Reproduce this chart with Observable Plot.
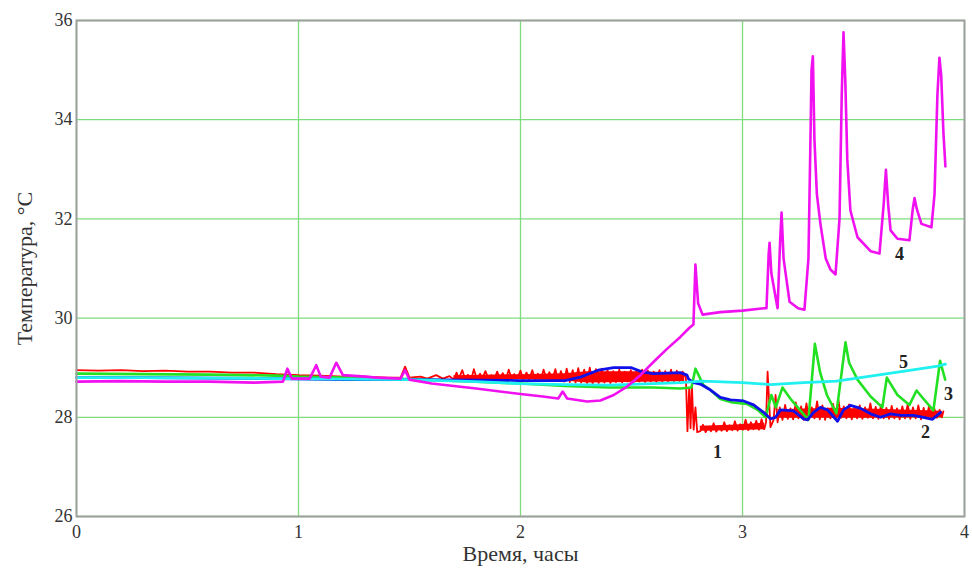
<!DOCTYPE html>
<html>
<head>
<meta charset="utf-8">
<script src="https://cdn.jsdelivr.net/npm/d3@7"></script>
<script src="https://cdn.jsdelivr.net/npm/@observablehq/plot@0.6"></script>
<style>
  html, body { margin: 0; padding: 0; background: #fff; }
  #chart svg { display: block; }
</style>
</head>
<body>
<div id="chart"></div>
<script>
// Axis ticks
const xTicks = [0, 1, 2, 3, 4];
const yTicks = [26, 28, 30, 32, 34, 36];

// Curve 1 (red): [time h, temperature °C]
const curve1 = [
  [0,28.95],[0.1,28.94],[0.2,28.95],[0.3,28.93],[0.4,28.94],[0.5,28.92],[0.6,28.92],[0.7,28.9],[0.8,28.9],[0.9,28.87],
  [1.0,28.85],[1.1,28.84],[1.2,28.82],[1.3,28.82],[1.4,28.8],[1.46,28.8],[1.48,29.02],[1.5,28.8],[1.55,28.82],[1.58,28.78],
  [1.62,28.85],[1.65,28.78],[1.68,28.83],
  [1.700,28.76],[1.712,28.90],[1.722,28.78],[1.738,28.95],[1.750,28.77],[1.763,28.86],[1.778,28.76],[1.790,28.97],
  [1.803,28.77],[1.818,28.88],[1.828,28.78],[1.842,28.93],[1.857,28.76],[1.868,28.85],[1.882,28.77],[1.895,28.92],
  [1.907,28.78],[1.920,28.89],[1.934,28.76],[1.947,28.96],[1.960,28.77],[1.972,28.87],[1.986,28.78],[2.000,28.94],
  [2.012,28.76],[2.027,28.90],[2.039,28.77],[2.053,28.95],[2.066,28.76],[2.078,28.88],[2.092,28.77],[2.104,28.96],
  [2.118,28.76],[2.130,28.91],[2.143,28.75],[2.157,28.97],[2.170,28.74],[2.182,28.93],[2.196,28.72],[2.208,28.98],
  [2.222,28.71],[2.235,28.95],[2.248,28.70],[2.260,28.99],[2.273,28.70],[2.287,28.96],[2.300,28.69],[2.312,29.0],
  [2.325,28.68],[2.340,28.97],[2.352,28.69],[2.366,28.98],[2.378,28.70],[2.392,28.95],[2.405,28.69],[2.418,28.93],
  [2.430,28.71],[2.445,28.96],[2.458,28.70],[2.470,28.92],[2.483,28.72],[2.497,28.95],[2.510,28.70],[2.522,28.93],
  [2.535,28.72],[2.548,28.96],[2.561,28.71],[2.574,28.94],[2.587,28.72],[2.600,28.92],[2.612,28.71],[2.626,28.95],
  [2.639,28.72],[2.652,28.93],[2.665,28.71],[2.678,28.96],[2.691,28.72],[2.704,28.94],[2.716,28.73],[2.730,28.92],
  [2.745,28.80],
  [2.752,27.72],[2.760,28.60],[2.766,27.78],[2.772,28.65],[2.780,27.75],[2.788,28.20],[2.796,27.70],
  [2.810,27.72],[2.822,27.85],[2.834,27.70],[2.846,27.80],[2.858,27.72],[2.870,27.88],[2.882,27.71],[2.894,27.82],
  [2.906,27.73],[2.918,27.90],[2.930,27.72],[2.942,27.84],[2.954,27.74],[2.966,27.92],[2.978,27.73],[2.990,27.86],
  [3.002,27.75],[3.014,27.95],[3.026,27.74],[3.038,27.90],[3.050,27.76],[3.062,27.93],[3.074,27.75],[3.086,27.96],
  [3.098,27.76],[3.106,27.90],
  [3.113,28.92],[3.126,27.80],[3.140,27.95],[3.149,28.45],[3.158,27.90],
  [3.168,28.20],[3.180,27.95],[3.192,28.25],[3.204,27.97],[3.216,28.18],[3.228,27.96],[3.240,28.30],[3.252,27.98],
  [3.264,28.22],[3.276,27.95],[3.288,28.28],[3.300,27.97],[3.312,28.20],[3.324,27.98],[3.336,28.32],[3.348,27.96],
  [3.360,28.24],[3.372,27.95],[3.384,28.18],[3.396,27.98],[3.408,28.27],[3.420,27.97],[3.432,28.35],[3.444,27.99],
  [3.456,28.22],[3.468,27.98],[3.480,28.26],[3.492,27.96],[3.504,28.19],[3.516,27.98],[3.528,28.24],[3.540,27.97],
  [3.552,28.20],[3.564,27.99],[3.576,28.28],[3.588,27.98],[3.600,28.21],[3.612,27.97],[3.624,28.25],[3.636,27.98],
  [3.648,28.19],[3.660,27.97],[3.672,28.23],[3.684,27.98],[3.696,28.18],[3.708,27.96],[3.720,28.22],[3.732,27.98],
  [3.744,28.26],[3.756,27.97],[3.768,28.20],[3.780,27.98],[3.792,28.24],[3.804,27.96],[3.816,28.19],[3.828,27.98],
  [3.840,28.22],[3.852,27.97],[3.864,28.18],[3.876,27.99],[3.888,28.15],[3.898,28.0],[3.905,28.12]
];

// Curve 1 (red) dense noise envelope: [time h, low °C, high °C]
const curve1Band = [
  [1.70,28.76,28.84],[2.00,28.76,28.86],[2.20,28.73,28.88],[2.30,28.69,28.92],[2.50,28.70,28.92],[2.74,28.72,28.90],
  [2.81,27.72,27.82],[2.95,27.73,27.84],[3.10,27.75,27.88],
  [3.16,27.98,28.15],[3.40,27.98,28.18],[3.60,27.98,28.16],[3.90,27.99,28.12]
];

// Curve 2 (blue)
const curve2 = [
  [0,28.8],[0.3,28.8],[0.6,28.79],[0.9,28.78],[1.2,28.76],[1.5,28.76],[1.8,28.75],[2.0,28.74],[2.2,28.74],
  [2.27,28.81],[2.35,28.95],[2.42,29.0],[2.5,29.0],[2.55,28.91],[2.6,28.88],[2.72,28.9],[2.75,28.85],
  [2.757,28.77],[2.78,28.7],[2.81,28.67],[2.856,28.55],[2.9,28.4],[2.946,28.35],[3.005,28.33],[3.05,28.25],
  [3.095,28.1],[3.126,27.97],[3.149,28.0],[3.171,28.15],[3.23,28.13],[3.275,27.97],[3.293,27.95],[3.32,28.1],
  [3.351,28.2],[3.383,28.15],[3.428,27.92],[3.455,28.15],[3.486,28.24],[3.532,28.18],[3.577,28.07],[3.622,28.0],
  [3.667,28.07],[3.712,28.04],[3.77,28.04],[3.815,28.0],[3.856,27.96],[3.892,28.1]
];

// Curve 3 (green)
const curve3 = [
  [0,28.88],[0.3,28.87],[0.6,28.86],[0.9,28.84],[1.0,28.82],[1.2,28.8],[1.5,28.77],[1.8,28.72],[2.0,28.68],
  [2.2,28.63],[2.4,28.6],[2.6,28.6],[2.72,28.58],[2.77,28.6],[2.788,28.98],[2.824,28.65],[2.856,28.55],
  [2.9,28.37],[2.955,28.3],[3.02,28.27],[3.068,28.15],[3.104,28.0],[3.13,28.45],[3.15,28.2],[3.18,28.6],
  [3.22,28.35],[3.297,27.95],[3.326,29.48],[3.35,28.9],[3.38,28.45],[3.423,28.08],[3.464,29.51],[3.48,29.1],
  [3.518,28.76],[3.577,28.42],[3.63,28.2],[3.65,28.8],[3.698,28.45],[3.752,28.25],[3.784,28.54],[3.81,28.4],
  [3.86,28.14],[3.89,29.14],[3.913,28.76]
];

// Curve 4 (magenta)
const curve4 = [
  [0,28.72],[0.2,28.73],[0.4,28.72],[0.6,28.72],[0.8,28.7],[0.93,28.72],[0.95,28.98],[0.97,28.78],[1.05,28.78],
  [1.08,29.05],[1.1,28.82],[1.14,28.8],[1.17,29.1],[1.2,28.85],[1.3,28.82],[1.35,28.8],[1.46,28.78],[1.48,28.95],
  [1.5,28.76],[1.6,28.68],[1.8,28.58],[2.0,28.47],[2.1,28.42],[2.17,28.38],[2.19,28.52],[2.21,28.38],[2.3,28.32],
  [2.36,28.34],[2.42,28.45],[2.48,28.62],[2.54,28.85],[2.6,29.12],[2.66,29.38],[2.72,29.62],[2.76,29.8],
  [2.779,29.87],[2.788,31.08],[2.8,30.3],[2.82,30.07],[2.9,30.12],[3.0,30.15],[3.1,30.2],[3.108,30.2],
  [3.118,31.3],[3.122,31.52],[3.13,30.9],[3.158,30.2],[3.17,31.6],[3.176,32.13],[3.185,31.2],[3.212,30.33],
  [3.25,30.2],[3.279,30.17],[3.297,31.2],[3.305,33.3],[3.311,35.0],[3.317,35.28],[3.324,33.6],[3.335,32.5],
  [3.351,31.9],[3.375,31.2],[3.396,30.98],[3.419,30.88],[3.437,32.0],[3.447,34.5],[3.455,35.76],[3.463,34.8],
  [3.472,33.2],[3.486,32.17],[3.518,31.63],[3.577,31.35],[3.617,31.3],[3.636,32.3],[3.646,32.99],[3.656,32.3],
  [3.667,31.77],[3.698,31.6],[3.752,31.57],[3.767,32.2],[3.775,32.42],[3.785,32.2],[3.806,31.9],[3.851,31.83],
  [3.865,32.5],[3.878,34.5],[3.887,35.25],[3.895,34.9],[3.905,33.74],[3.914,33.06]
];

// Curve 5 (cyan)
const curve5 = [
  [0,28.8],[0.3,28.8],[0.6,28.79],[0.9,28.78],[1.2,28.77],[1.5,28.76],[1.8,28.72],[2.0,28.68],[2.2,28.66],
  [2.4,28.65],[2.6,28.68],[2.72,28.7],[2.82,28.73],[3.0,28.7],[3.126,28.66],[3.2,28.68],[3.275,28.7],
  [3.423,28.73],[3.577,28.83],[3.73,28.93],[3.88,29.03],[3.914,29.07]
];

// Curve number labels
const labelText = ["1", "2", "3", "4", "5"];
const labelTime = [2.887, 3.824, 3.928, 3.707, 3.725];
const labelTemp = [27.3, 27.7, 28.47, 31.28, 29.12];

const RED = "#ff0000";
const series = [
  {data: curve3, color: "#22e022", w: 2.6},
  {data: curve2, color: "#1010e8", w: 2.8},
  {data: curve5, color: "#20f0f0", w: 2.8},
  {data: curve4, color: "#f010f0", w: 2.6}
];

const labels = labelText.map((t, i) => ({t, x: labelTime[i], y: labelTemp[i]}));

const chart = Plot.plot({
  width: 972,
  height: 569,
  marginLeft: 76,
  marginRight: 8,
  marginTop: 20,
  marginBottom: 53,
  style: {fontFamily: "'Liberation Serif', serif", fontSize: "18px", color: "#333", background: "#fff"},
  x: {domain: [0, 4], ticks: xTicks, tickFormat: "d", tickSize: 0, tickPadding: 9, label: "Время, часы", labelArrow: "none", labelAnchor: "center", labelOffset: 44},
  y: {domain: [26, 36], ticks: yTicks, tickFormat: "d", tickSize: 0, tickPadding: 4, label: "Температура, °C", labelArrow: "none", labelAnchor: "center", labelOffset: 60},
  marks: [
    Plot.gridX(xTicks, {stroke: "#7edc7e", strokeOpacity: 1, strokeWidth: 1.3}),
    Plot.gridY(yTicks, {stroke: "#7edc7e", strokeOpacity: 1, strokeWidth: 1.3}),
    Plot.areaY(curve1Band.filter(d => d[0] <= 2.75), {x: d => d[0], y1: d => d[1], y2: d => d[2], fill: RED}),
    Plot.areaY(curve1Band.filter(d => d[0] > 2.75 && d[0] < 3.12), {x: d => d[0], y1: d => d[1], y2: d => d[2], fill: RED}),
    Plot.areaY(curve1Band.filter(d => d[0] >= 3.12), {x: d => d[0], y1: d => d[1], y2: d => d[2], fill: RED}),
    Plot.line(curve1, {x: d => d[0], y: d => d[1], stroke: RED, strokeWidth: 1.8}),
    ...series.map(s => Plot.line(s.data, {x: d => d[0], y: d => d[1], stroke: s.color, strokeWidth: s.w})),
    Plot.frame({stroke: "#a0a0a0", strokeWidth: 2}),
    Plot.text(labels, {x: "x", y: "y", text: "t", fontSize: 18, fontWeight: "bold", fill: "#222"})
  ]
});

chart.querySelectorAll("[aria-label='x-axis label'] text, [aria-label='y-axis label'] text").forEach(t => {
  t.setAttribute("font-size", "22");
});
document.getElementById("chart").appendChild(chart);
</script>
</body>
</html>
